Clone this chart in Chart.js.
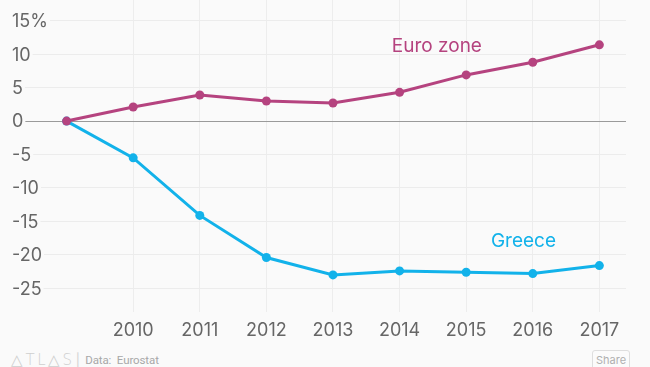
<!DOCTYPE html>
<html>
<head>
<meta charset="utf-8">
<script src="https://cdn.jsdelivr.net/npm/chart.js@4.4.1/dist/chart.umd.min.js"></script>
<style>
  html, body { margin: 0; padding: 0; background: #fafafa; width: 650px; height: 367px; overflow: hidden; font-family: Inter, "Noto Sans", sans-serif; }
  #wrap { position: absolute; left: 0; top: 0; width: 650px; height: 348px; }
  #footer { position: absolute; left: 11px; top: 352px; height: 16px; display: flex; align-items: center; white-space: nowrap; }
  #logo { font-family: "DejaVu Sans", sans-serif; font-size: 15px; font-weight: 200; color: #cfcfcf; letter-spacing: 2.5px; }
  #sep { color: #d5d5d5; font-size: 14px; margin: 0 5px 0 1px; }
  #src { color: #a8a8a8; font-family: Roboto, sans-serif; font-size: 11.5px; letter-spacing: -0.1px; }
  #share { position: absolute; left: 592px; top: 350px; width: 38px; height: 22px; border: 1px solid #dedede; border-radius: 3px; box-sizing: border-box; color: #b0b0b0; font-size: 11px; text-align: center; line-height: 18px; background: #fbfbfb; }
</style>
</head>
<body>
<div id="wrap"><canvas id="c"></canvas></div>
<div id="footer"><span id="logo">△TL△S</span><span id="sep">|</span><span id="src">Data:&nbsp; Eurostat</span></div>
<div id="share">Share</div>
<script>
const years = [2009, 2010, 2011, 2012, 2013, 2014, 2015, 2016, 2017];
const euroZone = [0, 2.1, 3.9, 3.0, 2.7, 4.3, 6.9, 8.8, 11.4];
const greece = [0, -5.5, -14.1, -20.4, -23.0, -22.4, -22.6, -22.8, -21.6];
const yTickValues = [-25, -20, -15, -10, -5, 0, 5, 10, 15];
const yTickLabels = ['-25', '-20', '-15', '-10', '-5', '0', '5', '10', '15%'];
const xTickValues = [2010, 2011, 2012, 2013, 2014, 2015, 2016, 2017];
const seriesLabels = [
  { text: 'Euro zone', x: 2014.56, y: 11.2, color: '#b5437f' },
  { text: 'Greece', x: 2015.86, y: -18.0, color: '#12b2ea' }
];

const euroColor = '#b5437f';
const greeceColor = '#12b2ea';
const FONT = 'Inter, "Noto Sans", sans-serif';

const yLabelPlugin = {
  id: 'yLabels',
  beforeDatasetsDraw(chart) {
    const { ctx, scales } = chart;
    ctx.save();
    ctx.font = '18px ' + FONT;
    ctx.textAlign = 'left';
    ctx.textBaseline = 'middle';
    yTickValues.forEach((v, i) => {
      const py = scales.y.getPixelForValue(v);
      const t = yTickLabels[i];
      const w = ctx.measureText(t).width;
      ctx.fillStyle = '#fafafa';
      ctx.fillRect(0, py - 3, 12 + w + 2, 6);
      ctx.fillStyle = '#666';
      ctx.fillText(t, 12, py + 1);
    });
    ctx.restore();
  }
};

const labelPlugin = {
  id: 'seriesLabels',
  afterDatasetsDraw(chart) {
    const { ctx, scales } = chart;
    ctx.save();
    ctx.font = '19px ' + FONT;
    ctx.textAlign = 'center';
    ctx.textBaseline = 'middle';
    seriesLabels.forEach(l => {
      ctx.fillStyle = l.color;
      ctx.fillText(l.text, scales.x.getPixelForValue(l.x), scales.y.getPixelForValue(l.y));
    });
    ctx.restore();
  }
};

new Chart(document.getElementById('c'), {
  type: 'line',
  data: {
    datasets: [
      {
        label: 'Euro zone',
        data: years.map((y, i) => ({ x: y, y: euroZone[i] })),
        borderColor: euroColor,
        backgroundColor: euroColor,
        borderWidth: 3,
        pointRadius: 4.5,
        pointBorderWidth: 0,
        pointHoverRadius: 4.5,
        tension: 0,
        clip: false
      },
      {
        label: 'Greece',
        data: years.map((y, i) => ({ x: y, y: greece[i] })),
        borderColor: greeceColor,
        backgroundColor: greeceColor,
        borderWidth: 3,
        pointRadius: 4.5,
        pointBorderWidth: 0,
        pointHoverRadius: 4.5,
        tension: 0,
        clip: false
      }
    ]
  },
  options: {
    responsive: true,
    maintainAspectRatio: false,
    animation: false,
    layout: { autoPadding: false, padding: { left: 0, right: 24, top: 0, bottom: 0 } },
    plugins: { legend: { display: false }, tooltip: { enabled: false } },
    scales: {
      x: {
        type: 'linear',
        min: 2008,
        max: 2017.4,
        afterBuildTicks: (s) => { s.ticks = xTickValues.map(v => ({ value: v })); },
        grid: { color: '#ededed', drawTicks: false, lineWidth: 1 },
        border: { display: false },
        ticks: {
          padding: 7,
          color: '#666',
          font: { family: FONT, size: 18 },
          callback: (v) => String(v),
          maxRotation: 0,
          autoSkip: false
        }
      },
      y: {
        type: 'linear',
        min: -28.6,
        max: 18.1,
        afterBuildTicks: (s) => { s.ticks = yTickValues.map(v => ({ value: v })); },
        grid: {
          color: (ctx) => (ctx.tick && ctx.tick.value === 0) ? '#9a9a9a' : '#ececec',
          drawTicks: false,
          lineWidth: 1
        },
        border: { display: false },
        ticks: { display: false }
      }
    }
  },
  plugins: [yLabelPlugin, labelPlugin]
});
</script>
</body>
</html>
